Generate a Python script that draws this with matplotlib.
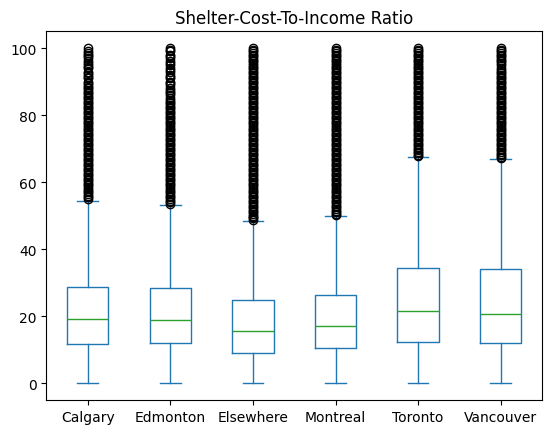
import matplotlib
matplotlib.use("Agg")
import matplotlib.pyplot as plt

categories = ["Calgary", "Edmonton", "Elsewhere", "Montreal", "Toronto", "Vancouver"]
q1 = [11.6, 12.1, 9.1, 10.6, 12.3, 12.1]
median = [19.1, 19.0, 15.7, 17.0, 21.6, 20.8]
q3 = [28.8, 28.5, 24.9, 26.4, 34.5, 34.2]
whisker_low = [0.0, 0.0, 0.0, 0.0, 0.0, 0.0]
whisker_high = [54.5, 53.3, 48.5, 49.9, 67.6, 66.9]

fliers_calgary = [55, 55.5, 56, 56.5, 57, 57.5, 58, 58.5, 59, 59.5, 60, 60.5, 61, 61.5, 62, 62.5,
                  63, 63.5, 64, 64.5, 65, 65.5, 66, 66.5, 67, 67.5, 68, 68.5, 69, 69.5, 70, 70.5,
                  71, 71.5, 72, 72.5, 73, 73.5, 74, 74.5, 75, 75.5, 76, 76.5, 77, 77.5, 78, 78.5,
                  79, 79.5, 80, 80.5, 81, 81.5, 82, 82.5, 83, 83.5, 84, 84.5, 85, 85.5, 86, 86.5,
                  87, 87.5, 88, 88.5, 89, 89.5, 90, 91, 91.5, 92, 92.5, 93, 94, 94.5,
                  95, 95.5, 96, 97, 97.5, 98, 98.5, 99, 100]
fliers_edmonton = [53.6, 54, 54.5, 55, 55.5, 56, 56.5, 57, 57.5, 58, 58.5, 59, 59.5, 60, 60.5, 61,
                   61.5, 62, 62.5, 63, 63.5, 64, 64.5, 65, 65.5, 66, 66.5, 67, 67.5, 68, 68.5, 69,
                   69.5, 70, 70.5, 71, 71.5, 72, 72.5, 73, 73.5, 74, 74.5, 75, 75.5, 76, 76.5, 77,
                   77.5, 78, 78.5, 79, 79.5, 80, 80.5, 81, 81.5, 82, 82.5, 83, 83.5, 84, 84.5, 85,
                   86, 86.5, 87, 87.5, 88, 89, 89.5, 90, 91, 91.5, 92, 93, 93.5, 94, 95, 95.5,
                   96, 97, 97.5, 98, 99, 99.5, 100]
fliers_elsewhere = [48.8, 49.2, 49.6, 50, 50.5, 51, 51.5, 52, 52.5, 53, 53.5, 54, 54.5, 55, 55.5, 56,
                    56.5, 57, 57.5, 58, 58.5, 59, 59.5, 60, 60.5, 61, 61.5, 62, 62.5, 63, 63.5, 64,
                    64.5, 65, 65.5, 66, 66.5, 67, 67.5, 68, 68.5, 69, 69.5, 70, 70.5, 71, 71.5, 72,
                    72.5, 73, 73.5, 74, 74.5, 75, 75.5, 76, 76.5, 77, 77.5, 78, 78.5, 79, 79.5, 80,
                    80.5, 81, 81.5, 82, 82.5, 83, 83.5, 84, 84.5, 85, 85.5, 86, 86.5, 87, 87.5, 88,
                    88.5, 89, 89.5, 90, 90.5, 91, 91.5, 92, 92.5, 93, 93.5, 94, 94.5, 95, 95.5, 96,
                    96.5, 97, 97.5, 98, 98.5, 99, 99.5, 100]
fliers_montreal = [50.2, 50.6, 51, 51.5, 52, 52.5, 53, 53.5, 54, 54.5, 55, 55.5, 56, 56.5, 57, 57.5,
                   58, 58.5, 59, 59.5, 60, 60.5, 61, 61.5, 62, 62.5, 63, 63.5, 64, 64.5, 65, 65.5,
                   66, 66.5, 67, 67.5, 68, 68.5, 69, 69.5, 70, 70.5, 71, 71.5, 72, 72.5, 73, 73.5,
                   74, 74.5, 75, 75.5, 76, 76.5, 77, 77.5, 78, 78.5, 79, 79.5, 80, 80.5, 81, 81.5,
                   82, 82.5, 83, 83.5, 84, 84.5, 85, 85.5, 86, 86.5, 87, 87.5, 88, 88.5, 89, 89.5,
                   90, 90.5, 91, 91.5, 92, 92.5, 93, 93.5, 94, 94.5, 95, 95.5, 96, 96.5, 97, 97.5,
                   98, 98.5, 99, 99.5, 100]
fliers_toronto = [67.8, 68.2, 68.6, 69, 69.5, 70, 70.5, 71, 71.5, 72, 72.5, 73, 73.5, 74, 74.5, 75,
                  75.5, 76, 76.5, 77, 77.5, 78, 78.5, 79, 79.5, 80, 80.5, 81, 81.5, 82, 82.5, 83,
                  83.5, 84, 84.5, 85, 85.5, 86, 86.5, 87, 87.5, 88, 88.5, 89, 89.5, 90, 90.5, 91,
                  91.5, 92, 92.5, 93, 93.5, 94, 94.5, 95, 95.5, 96, 96.5, 97, 97.5, 98, 98.5, 99,
                  99.5, 100]
fliers_vancouver = [67.2, 67.6, 68, 68.5, 69, 69.5, 70, 70.5, 71, 71.5, 72, 72.5, 73, 73.5, 74, 74.5,
                    75, 75.5, 76, 76.5, 77, 77.5, 78, 78.5, 79, 79.5, 80, 80.5, 81, 81.5, 82, 82.5,
                    83, 83.5, 84, 84.5, 85, 85.5, 86, 86.5, 87, 87.5, 88, 88.5, 89, 89.5, 90, 90.5,
                    91, 91.5, 92, 92.5, 93, 93.5, 94, 95, 95.5, 96, 96.5, 97, 97.5, 98, 98.5, 99,
                    99.5, 100]

fliers = [fliers_calgary, fliers_edmonton, fliers_elsewhere,
          fliers_montreal, fliers_toronto, fliers_vancouver]

stats = []
for i, cat in enumerate(categories):
    stats.append(dict(label=cat, q1=q1[i], med=median[i], q3=q3[i],
                      whislo=whisker_low[i], whishi=whisker_high[i],
                      fliers=fliers[i]))

fig = plt.figure(figsize=(5.52, 4.35), dpi=100)
ax = fig.add_axes([0.0839, 0.0782, 0.8981, 0.8475])

blue = "#1f77b4"
green = "#2ca02c"
ax.bxp(stats, positions=range(1, len(categories) + 1), widths=0.5,
       boxprops=dict(color=blue), whiskerprops=dict(color=blue),
       capprops=dict(color=blue), medianprops=dict(color=green),
       flierprops=dict(marker="o", markerfacecolor="none", markeredgecolor="black",
                       markersize=6))

ax.set_xlim(0.5, len(categories) + 0.5)
ax.set_ylim(-5, 105)
ax.set_yticks([0, 20, 40, 60, 80, 100])
ax.set_title("Shelter-Cost-To-Income Ratio")

fig.savefig("out.png", dpi=100)
